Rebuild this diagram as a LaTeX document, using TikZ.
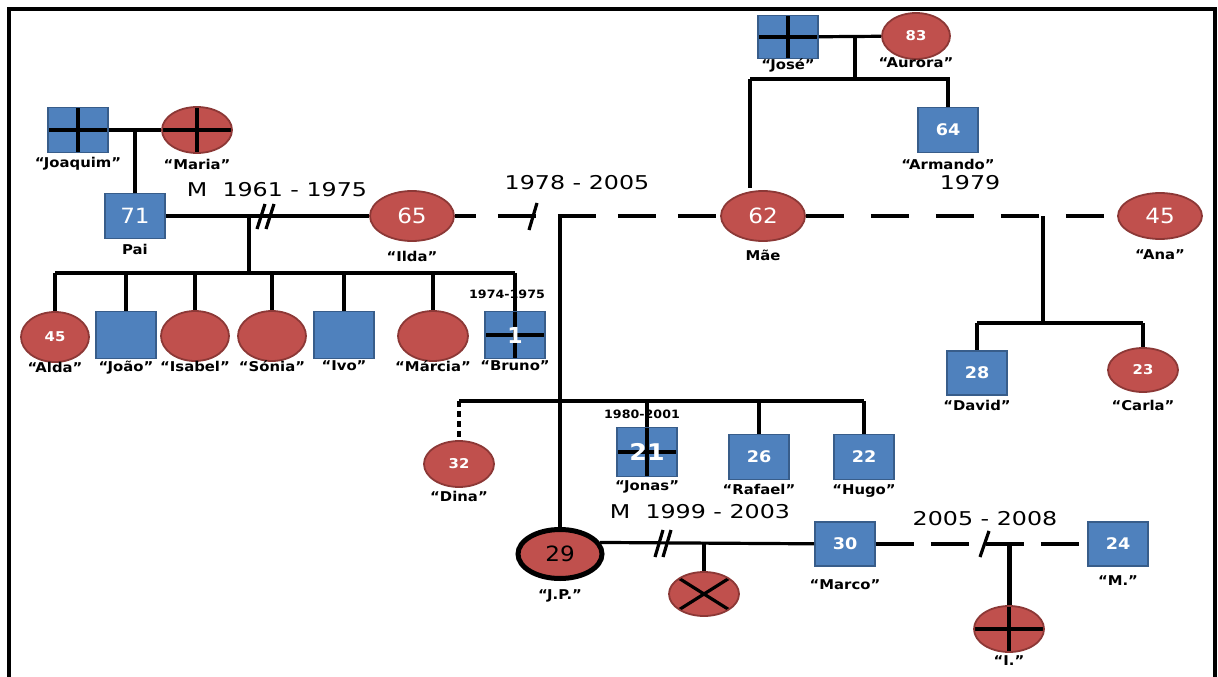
\documentclass[tikz,border=0pt]{standalone}
\usepackage{fontspec}
\setmainfont{DejaVu Sans}
\newfontfamily\namefont[FakeStretch=1.1]{DejaVu Sans}
\newfontfamily\yearfont[FakeStretch=1.25]{DejaVu Sans}
\usepackage{tikz}
\usepackage{xcolor}
\usetikzlibrary{shapes.geometric}
\definecolor{mblue}{HTML}{4F81BD}
\definecolor{mblueb}{HTML}{385D8A}
\definecolor{fred}{HTML}{C0504D}
\definecolor{fredb}{HTML}{8C3836}
\newcommand\relw{3.2pt}
\tikzstyle{rel}=[line width=\relw]
\tikzstyle{sep}=[line width=\relw,dash pattern=on 38pt off 22pt]
\tikzstyle{cut}=[line width=\relw]
\tikzstyle{male}=[rectangle,draw=mblueb,fill=mblue,line width=1.8pt,
  minimum width=60pt,minimum height=45pt,inner sep=0pt,text=white]
\tikzstyle{female}=[ellipse,draw=fredb,fill=fred,line width=1.8pt,
  minimum width=70pt,minimum height=46pt,inner sep=0pt,text=white]
\tikzstyle{bignum}=[font=\namefont\fontsize{21}{21}\selectfont]
\tikzstyle{midnum}=[font=\namefont\bfseries\fontsize{16}{16}\selectfont]
\tikzstyle{smallnum}=[font=\namefont\bfseries\fontsize{13.5}{14}\selectfont]
\tikzstyle{yeartext}=[font=\yearfont\fontsize{19}{19}\selectfont,inner sep=1pt]
\tikzstyle{smallyear}=[font=\namefont\bfseries\fontsize{11.5}{12}\selectfont,inner sep=1pt]
\tikzstyle{dead}=[path picture={% cross through the whole symbol
  \draw[black,line width=\relw] (path picture bounding box.north) -- (path picture bounding box.south)
    (path picture bounding box.west) -- (path picture bounding box.east);}]
\tikzstyle{lostpreg}=[path picture={
  \draw[black,line width=\relw] (path picture bounding box.north west) -- (path picture bounding box.south east)
    (path picture bounding box.south west) -- (path picture bounding box.north east);}]

\begin{document}
\begin{tikzpicture}[x=1pt,y=-1pt,label distance=4pt,
  every label/.style={font=\namefont\bfseries\fontsize{13.5}{14}\selectfont,text=black,inner sep=1pt}]
  \useasboundingbox (0,0) rectangle (1218,677);
  \draw[line width=4pt] (8.5,677) -- (8.5,9.5) -- (1214.5,9.5) -- (1214.5,677);

  % grandparents
  \node[male,dead] (joaquim) at (78,130) [label={[label distance=3pt]below:“Joaquim”}] {};
  \node[female,dead] (maria) at (197,130) [label={[label distance=4pt]below:“Maria”}] {};
  \node[male,dead,minimum height=43pt] (jose) at (788,37) [label={[label distance=-2pt]below:“José”}] {};
  \node[female,minimum width=68pt,smallnum] (aurora) at (916,36) [label={[label distance=-3pt]below:“Aurora”}] {83};

  % parents
  \node[male,bignum] (pai) at (135,216) [label={[label distance=4pt]below:Pai}] {71};
  \node[female,minimum width=84pt,minimum height=50pt,bignum] (ilda) at (412,216) [label={[label distance=8pt]below:“Ilda”}] {65};
  \node[female,minimum width=84pt,minimum height=50pt,bignum] (mae) at (763,216) [label={[label distance=7pt]below:Mãe}] {62};
  \node[male,midnum] (armando) at (948,130) [label={[label distance=5pt]below:“Armando”}] {64};
  \node[female,minimum width=84pt,bignum] (ana) at (1160,216) [label={[label distance=9pt]below:“Ana”}] {45};

  % children of Pai and Ilda
  \node[female,minimum width=68pt,minimum height=50pt,smallnum] (alda) at (55,337) [label={[label distance=-2pt]below:“Alda”}] {45};
  \node[male,minimum height=47pt] (joao) at (126,335) [label={[label distance=0pt]below:“João”}] {};
  \node[female,minimum width=68pt,minimum height=50pt] (isabel) at (195,336) [label={[label distance=-2pt]below:“Isabel”}] {};
  \node[female,minimum width=68pt,minimum height=50pt] (sonia) at (272,336) [label={[label distance=-2pt]below:“Sónia”}] {};
  \node[male,minimum height=47pt] (ivo) at (344,335) [label={[label distance=0pt]below:“Ivo”}] {};
  \node[female,minimum width=70pt,minimum height=50pt] (marcia) at (433,336) [label={[label distance=-2pt]below:“Márcia”}] {};
  \node[male,dead,minimum height=47pt,font=\bfseries\fontsize{22}{22}\selectfont] (bruno) at (515,335) [label={[label distance=0pt]below:“Bruno”}] {1};
  \node[smallyear] (brunoyr) at (507,294) {1974-1975};

  % children of Mãe and Carla's father
  \node[male,minimum height=44pt,midnum] (david) at (977,373) [label={[label distance=3pt]below:“David”}] {28};
  \node[female,minimum height=44pt,smallnum] (carla) at (1143,370) [label={[label distance=6pt]below:“Carla”}] {23};

  % siblings
  \node[female,smallnum] (dina) at (459,464) [label={[label distance=2pt]below:“Dina”}] {32};
  \node[male,dead,minimum height=49pt,font=\namefont\bfseries\fontsize{23}{23}\selectfont] (jonas) at (647,452) [label={[label distance=2pt]below:“Jonas”}] {21};
  \node[smallyear] (jonasyr) at (642,414) {1980-2001};
  \node[male,midnum] (rafael) at (759,457) [label={[label distance=3pt]below:“Rafael”}] {26};
  \node[male,midnum] (hugo) at (864,457) [label={[label distance=3pt]below:“Hugo”}] {22};

  % J.P. and partners
  \node[female,draw=black,line width=5pt,minimum width=84pt,minimum height=49pt,text=black,bignum] (jp) at (560,554) [label={[label distance=7pt]below:“J.P.”}] {29};
  \node[female,lostpreg,minimum height=44pt] (lost) at (704,594) {};
  \node[male,minimum height=44pt,midnum] (marco) at (845,544) [label={[label distance=12pt]below:“Marco”}] {30};
  \node[female,dead] (ii) at (1009,629) [label={[label distance=2pt]below:“I.”}] {};
  \node[male,minimum height=44pt,midnum] (mm) at (1118,544) [label={[label distance=8pt]below:“M.”}] {24};

  % dates
  \node[yeartext] (y1) at (277,190) {M\ \ 1961 - 1975};
  \node[yeartext] (y2) at (577,183) {1978 - 2005};
  \node[yeartext] (y3) at (970,183) {1979};
  \node[yeartext] (y4) at (700,512) {M\ \ 1999 - 2003};
  \node[yeartext] (y5) at (985,519) {2005 - 2008};

  % couples and descent
  \coordinate (jm) at (135,130);
  \draw[rel] (joaquim) -- (maria);
  \draw[rel] (jm) -- (pai);

  \coordinate (ja) at (855,37);
  \coordinate (jab) at (855,79);
  \coordinate (jl) at (750,79);
  \draw[rel] (jose) -- (aurora);
  \draw[rel] (ja) -- (jab);
  \draw[rel] (jl) -- (armando |- jab) -- (armando);
  \draw[rel] (jl) -- ([yshift=2pt]jl |- mae.north);

  \coordinate (pi) at (249,216);
  \coordinate (pib) at (249,273);
  \draw[rel] (pai) -- (ilda);
  \draw[cut] (257,229) -- (265,204) (266,229) -- (274,204);
  \draw[rel] (pi) -- (pib);
  \draw[rel] (alda |- pib) -- (bruno |- pib);
  \foreach \c in {alda,joao,isabel,sonia,ivo,marcia,bruno}
    \draw[rel] (\c |- pib) -- (\c);

  \coordinate (im) at (560,216);
  \coordinate (sb) at (560,401);
  \draw[sep,dash phase=17pt] (ilda) -- (mae);
  \draw[cut] (529,230) -- (537,203);
  \draw[rel] (im) -- (jp);
  \draw[rel] (dina |- sb) -- (hugo |- sb);
  \draw[rel,dash pattern=on 6pt off 4pt,line width=4pt] (dina |- sb) -- (dina);
  \foreach \c in {jonas,rafael,hugo}
    \draw[rel] (\c |- sb) -- (\c);

  \coordinate (ma) at (1043,216);
  \coordinate (mab) at (1043,323);
  \draw[sep,dash pattern=on 38pt off 27pt] (mae) -- (ana);
  \draw[rel] (ma) -- (mab);
  \draw[rel] (david |- mab) -- (carla |- mab);
  \draw[rel] (david |- mab) -- (david);
  \draw[rel] (carla |- mab) -- (carla);

  \coordinate (jpm) at (704,543);
  \draw[rel] (jp.16) -- (marco);
  \draw[cut] (655,557) -- (663,530) (663,557) -- (671,530);
  \draw[rel] (jpm) -- (lost);

  \coordinate (mi) at (1009,543);
  \draw[sep,dash pattern=on 38pt off 17pt] (marco) -- (mm);
  \draw[cut] (980,557) -- (989,531);
  \draw[line width=5pt] (mi) -- (ii);
\end{tikzpicture}
\end{document}
